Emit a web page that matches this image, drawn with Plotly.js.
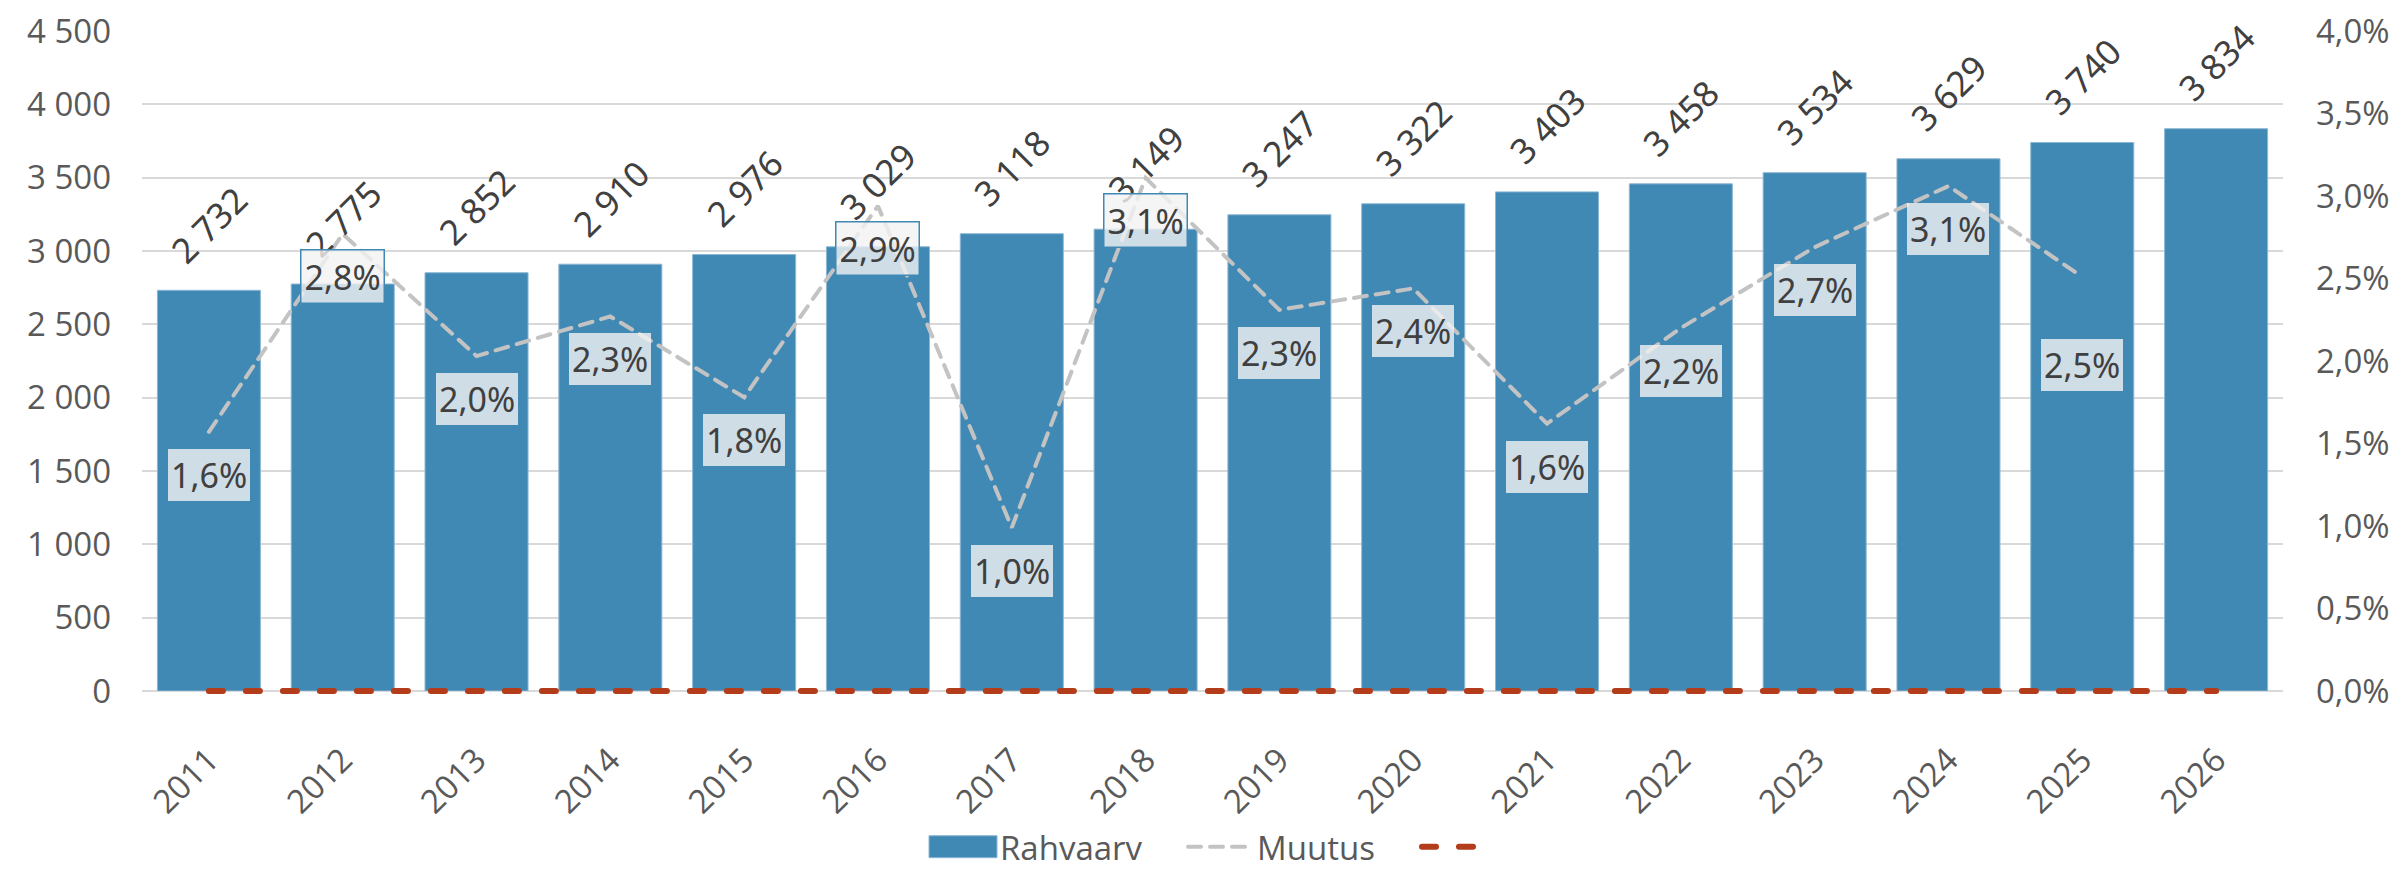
<!DOCTYPE html>
<html>
<head>
<meta charset="utf-8">
<script src="https://cdn.plot.ly/plotly-3.0.1.min.js"></script>
<style>
html,body{margin:0;padding:0;background:#fff;}
#chart{width:2407px;height:873px;}
</style>
</head>
<body>
<div id="chart"></div>
<script>
const years = ['2011','2012','2013','2014','2015','2016','2017','2018','2019','2020','2021','2022','2023','2024','2025','2026'];
const rahvaarv = [2732,2775,2852,2910,2976,3029,3118,3149,3247,3322,3403,3458,3534,3629,3740,3834];
const muutusYears = ['2011','2012','2013','2014','2015','2016','2017','2018','2019','2020','2021','2022','2023','2024','2025'];
const muutus = [0.0157,0.0277,0.0203,0.0227,0.0178,0.0294,0.0099,0.0311,0.0231,0.0244,0.0162,0.0220,0.0269,0.0306,0.0251];
const baseline = [0,0,0,0,0,0,0,0,0,0,0,0,0,0,0,0];

// label styling (not data)
const boxedYears = ['2012','2016','2018'];
const labelShift = {'2025': -88};

const axisFont = {family:'Open Sans, sans-serif', size:33, color:'#595959'};
const xTickFont = {family:'Open Sans, sans-serif', size:33, color:'#595959'};
const labelFont = {family:'Noto Sans, sans-serif', size:34, color:'#404040'};
const barLabelFont = {family:'Noto Sans, sans-serif', size:35, color:'#404040'};
const fmtInt = v => String(v).replace(/\B(?=(\d{3})+(?!\d))/g, '\u00A0');

const traces = [
  {
    type:'bar', name:'Rahvaarv', x:years, y:rahvaarv,
    marker:{color:'#4189B5', line:{color:'#8DB8D4', width:1}},
    hoverinfo:'skip'
  },
  {
    type:'scatter', mode:'lines', name:'Muutus', x:muutusYears, y:muutus, yaxis:'y2',
    line:{color:'#C3C3C3', width:4, dash:'13px,9px'}, hoverinfo:'skip'
  },
  {
    type:'scatter', mode:'lines', name:' ', x:years, y:baseline, yaxis:'y2',
    line:{color:'#B33D1B', width:6, dash:'14px,23px'}, hoverinfo:'skip', cliponaxis:false
  }
];

const barLabels = years.map((yr,i)=>({
  x: i, y: rahvaarv[i], xref:'x', yref:'y',
  text: fmtInt(rahvaarv[i]), showarrow:false, textangle:-45,
  xanchor:'center', yanchor:'middle', yshift:66,
  font: barLabelFont
}));

const pctLabels = muutusYears.map((yr,i)=>{
  const boxed = boxedYears.includes(yr);
  return {
    x: years.indexOf(yr), y: muutus[i], xref:'x', yref:'y2',
    text: (muutus[i]*100).toFixed(1).replace('.',',') + '%',
    showarrow:false, xanchor:'center', yanchor:'middle',
    yshift: (labelShift[yr] !== undefined ? labelShift[yr] : -43),
    font: labelFont,
    bgcolor:'rgba(242,242,242,0.8)',
    bordercolor: boxed ? '#4189B5' : 'rgba(0,0,0,0)',
    borderwidth: boxed ? 1.5 : 0,
    borderpad: 3
  };
});

const layout = {
  width:2407, height:873,
  margin:{l:142, r:124, t:31, b:182, autoexpand:false},
  paper_bgcolor:'#fff', plot_bgcolor:'#fff',
  separators:', ',
  bargap:0.23,
  showlegend:true,
  legend:{orientation:'h', x:0.366, xanchor:'left', y:-0.236, yanchor:'middle', itemwidth:64,
    font:{family:'Open Sans, sans-serif', size:33, color:'#595959'}, traceorder:'normal'},
  xaxis:{type:'category', range:[-0.5, years.length-0.5], autorange:false, tickangle:-45, tickfont:xTickFont,
    showgrid:false, ticks:'', showline:false, zeroline:false, ticklabelstandoff:42},
  yaxis:{range:[0,4500], dtick:500, tickformat:',d', tickfont:axisFont, gridcolor:'#D9D9D9', gridwidth:2,
    zeroline:true, zerolinecolor:'#D9D9D9', zerolinewidth:2, ticks:'', ticklabelstandoff:30},
  yaxis2:{range:[0,0.04], dtick:0.005, tickformat:'.1%', overlaying:'y', side:'right', tickfont:axisFont,
    showgrid:false, zeroline:false, ticks:'', ticklabelstandoff:32},
  annotations: barLabels.concat(pctLabels)
};

Plotly.newPlot('chart', traces, layout, {displayModeBar:false, staticPlot:true}).then(gd=>{
  const items = gd.querySelectorAll('.legend .traces');
  if (items[0]) {
    const p = items[0].querySelector('.legendpoints path');
    if (p) { p.setAttribute('d','M-34,-11h68v22h-68Z'); }
  }
  gd.querySelectorAll('.scatterlayer .js-line').forEach(l=>l.style.strokeLinecap='round');
  gd.querySelectorAll('.legend .js-line').forEach(l=>l.style.strokeLinecap='round');

  // place legend entries at the spacing of the reference
  const targets = [929, 1183, 1417];
  items.forEach((it,k)=>{
    const sym = it.querySelector('.legendpoints');
    if (!sym || targets[k] === undefined) return;
    const left = sym.getBoundingClientRect().left;
    const dx = targets[k] - left;
    const tf = it.getAttribute('transform') || '';
    const m = tf.match(/translate\(\s*([-\d.]+)[ ,]+([-\d.]+)\s*\)/);
    if (m) it.setAttribute('transform', 'translate(' + (parseFloat(m[1]) + dx) + ',' + m[2] + ')');
  });
  const bg = gd.querySelector('.legend .bg');
  if (bg) bg.setAttribute('width', 2000);

  // let the zero-level dashed series show its full width at the axis edge
  const tr = gd.querySelectorAll('.scatterlayer .trace');
  const red = tr[tr.length-1];
  if (red) {
    red.removeAttribute('clip-path');
    red.querySelectorAll('[clip-path]').forEach(e=>e.removeAttribute('clip-path'));
    let g = red.parentNode;
    while (g && g !== gd) {
      if (g.hasAttribute && g.hasAttribute('clip-path')) {
        const host = g.parentNode;
        const t = g.getAttribute('transform');
        const wrap = document.createElementNS('http://www.w3.org/2000/svg','g');
        if (t) wrap.setAttribute('transform', t);
        host.appendChild(wrap);
        wrap.appendChild(red);
        break;
      }
      g = g.parentNode;
    }
  }
  const lg = gd.querySelector('.legend');
  if (lg) lg.querySelectorAll('[clip-path]').forEach(e=>e.removeAttribute('clip-path'));
});
</script>
</body>
</html>
